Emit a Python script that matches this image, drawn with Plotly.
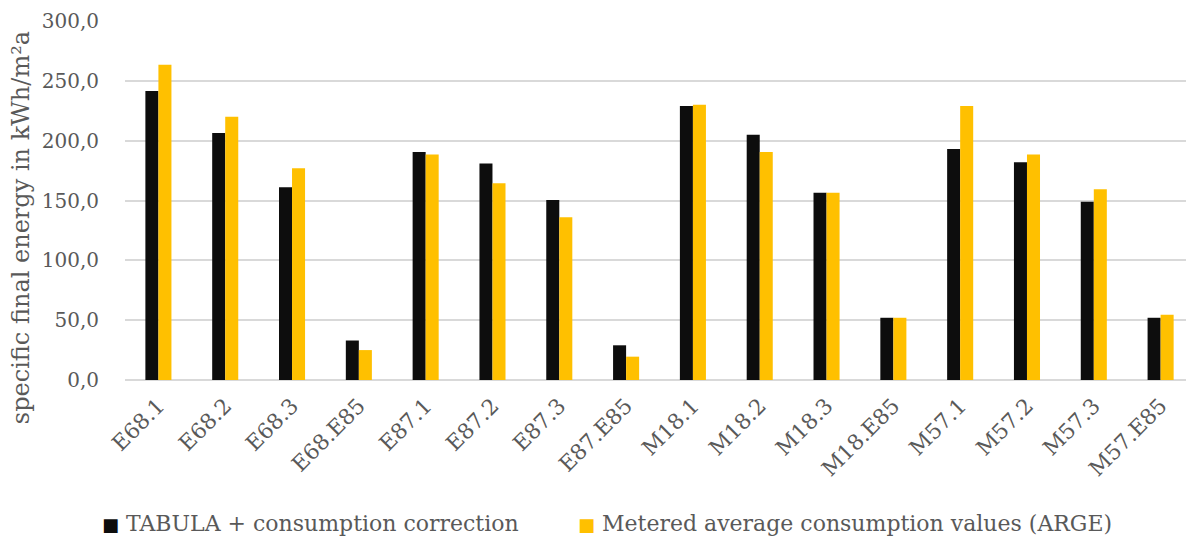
import plotly.graph_objects as go

# Building types / variants
categories = ["E68.1", "E68.2", "E68.3", "E68.E85",
              "E87.1", "E87.2", "E87.3", "E87.E85",
              "M18.1", "M18.2", "M18.3", "M18.E85",
              "M57.1", "M57.2", "M57.3", "M57.E85"]

# Specific final energy, kWh/m²a
tabula_corrected = [241.5, 206.5, 161.0, 33.0,
                    190.5, 181.0, 150.5, 29.0,
                    229.0, 205.0, 156.5, 52.0,
                    193.0, 182.0, 149.0, 52.0]
metered_arge = [263.5, 220.0, 177.0, 25.0,
                188.5, 164.5, 136.0, 19.5,
                230.0, 190.5, 156.5, 52.0,
                229.0, 188.5, 159.5, 54.5]

series_names = ["TABULA + consumption correction",
                "Metered average consumption values (ARGE)"]
series_colors = ["#0d0d0d", "#ffc000"]

y_ticks = [0, 50, 100, 150, 200, 250, 300]
y_tick_labels = ["0,0", "50,0", "100,0", "150,0", "200,0", "250,0", "300,0"]

FONT = "DejaVu Serif"
TEXT_GREY = "#595959"

fig = go.Figure()
for name, values, color in zip(series_names, [tabula_corrected, metered_arge], series_colors):
    fig.add_trace(go.Bar(x=categories, y=values, name=name, showlegend=False,
                         marker=dict(color=color, line=dict(width=0))))

# Legend row below the plot: coloured square + series name
legend_x = [-0.0235, 0.425]
legend_items = [
    dict(text=f"<span style='font-size:18px;color:{color}'>■</span> {name}",
         xref="paper", yref="paper", x=x, y=-0.401,
         xanchor="left", yanchor="middle", showarrow=False,
         font=dict(family=FONT, size=22, color=TEXT_GREY))
    for name, color, x in zip(series_names, series_colors, legend_x)
]

fig.update_layout(
    width=1186, height=539,
    margin=dict(l=125, r=0, t=21, b=159),
    paper_bgcolor="white", plot_bgcolor="white",
    barmode="group", bargap=0.61, bargroupgap=0,
    font=dict(family=FONT, size=20, color=TEXT_GREY),
    xaxis=dict(range=[-0.5, 15.38], tickangle=-45, showgrid=False,
               showline=False, ticks="", automargin=False,
               ticklabelstandoff=8,
               tickfont=dict(family=FONT, size=21.5, color=TEXT_GREY)),
    yaxis=dict(range=[0, 300], tickvals=y_ticks, ticktext=y_tick_labels,
               showgrid=True, gridcolor="#d9d9d9", gridwidth=1.5,
               zeroline=True, zerolinecolor="#d9d9d9", zerolinewidth=1.5,
               showline=False, ticks="", ticklabelstandoff=25,
               automargin=False,
               tickfont=dict(family=FONT, size=20, color=TEXT_GREY)),
    annotations=[dict(text="specific final energy in kWh/m²a",
                      xref="paper", yref="paper", x=-0.098, y=0.423,
                      xanchor="center", yanchor="middle", textangle=-90,
                      showarrow=False,
                      font=dict(family=FONT, size=24, color=TEXT_GREY))]
                + legend_items,
)

fig.write_html("out.html")
